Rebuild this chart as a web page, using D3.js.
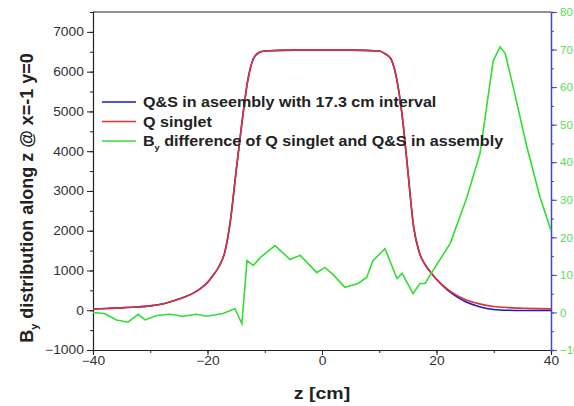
<!DOCTYPE html>
<meta charset="utf-8">
<script src="https://d3js.org/d3.v7.min.js"></script>
<style>
  body { margin: 0; background: #fff; }
  text { font-family: Arial, "Liberation Sans", sans-serif; }
</style>
<div id="my_dataviz"></div>
<script>

// z positions (cm) for the two field curves
var zField = [-40, -37.5, -35, -32.5, -30, -27.5, -25, -22.5, -21, -20, -19, -18, -17, -16, -15, -14, -13, -12, -11, -10,
              -5, 0, 5, 10, 11, 12, 13, 14, 15, 16, 17, 18, 19, 20, 21, 22.5, 25, 27.5, 30, 32.5, 35, 37.5, 40];
// Q singlet
var qSinglet = [30, 45, 60, 80, 110, 170, 280, 430, 570, 700, 880, 1100, 1450, 2250, 3500, 4700, 5750, 6320, 6480, 6520,
                6540, 6540, 6540, 6520, 6450, 6330, 5850, 4900, 3500, 2100, 1450, 1150, 950, 780, 640, 470, 270, 160, 95, 65, 50, 40, 35];
// Q&S in assembly
var qsAssembly = [30, 45, 60, 80, 110, 170, 280, 430, 570, 700, 880, 1100, 1450, 2250, 3500, 4700, 5750, 6320, 6480, 6520,
                  6540, 6540, 6540, 6520, 6450, 6330, 5850, 4900, 3500, 2100, 1450, 1150, 950, 780, 630, 440, 220, 90, 20, 0, -5, -5, -5];

// By difference curve (right axis)
var zDiff = [-40, -38, -35.9, -33.9, -32.1, -30.9, -28.9, -26.6, -24.3, -21.9, -20.1, -17.3, -15.2, -14, -13.1, -12, -10.8,
             -8.2, -5.6, -3.8, -0.9, 0.5, 2, 4, 6.3, 7.8, 8.9, 11, 13.1, 14, 15.9, 17.1, 18, 19.4, 22.4, 25.3, 27.6,
             29.9, 31.1, 32, 33.4, 35.8, 38.1, 40];
var byDiff = [0, -0.3, -2, -2.6, -0.5, -2, -0.8, -0.5, -1, -0.5, -1, -0.3, 1, -3, 13.8, 12.5, 14.6,
              17.8, 14.1, 15.2, 10.6, 12, 10, 6.7, 7.7, 9.3, 13.8, 17, 9, 10.4, 5, 7.7, 7.7, 11.2, 18.4, 30.6, 42.3,
              67, 70.7, 69, 60, 44, 30.6, 21.8];

var xTicks = [-40, -20, 0, 20, 40];
var yTicks = [-1000, 0, 1000, 2000, 3000, 4000, 5000, 6000, 7000];
var y2Ticks = [-10, 0, 10, 20, 30, 40, 50, 60, 70, 80];

var margin = {top: 12, right: 23, bottom: 56, left: 93},
    width = 574 - margin.left - margin.right,
    height = 406 - margin.top - margin.bottom;

// the original picture is a bit stretched sideways
var sx = 1.15;

var svg = d3.select("#my_dataviz")
  .append("svg")
    .attr("width", 574)
    .attr("height", 406)
  .append("g")
    .attr("transform", "translate(" + margin.left + "," + margin.top + ")");

var x = d3.scaleLinear().domain([-40, 40]).range([0, width]);
var y = d3.scaleLinear().domain([-1000, 7500]).range([height, 0]);
var y2 = d3.scaleLinear().domain([-10, 80]).range([height, 0]);

// top frame line
svg.append("line")
  .attr("x1", 0).attr("x2", width).attr("y1", 0).attr("y2", 0)
  .attr("stroke", "#222").attr("stroke-width", 1.2);

// X axis with minor ticks
svg.append("g")
  .attr("transform", "translate(0," + height + ")")
  .call(d3.axisBottom(x).tickValues(d3.range(-40, 41, 10)).tickSize(3).tickFormat(""))
  .call(function(g) { g.select(".domain").attr("stroke", "#222").attr("stroke-width", 1.2); g.selectAll("line").attr("stroke", "#222"); });
svg.append("g")
  .attr("transform", "translate(0," + height + ")")
  .call(d3.axisBottom(x).tickValues(xTicks).tickSize(5).tickPadding(1))
  .call(function(g) {
    g.select(".domain").remove();
    g.selectAll("line").attr("stroke", "#222");
    g.selectAll("text").attr("fill", "#333").style("font-size", "12px")
      .attr("transform", "scale(" + sx + ",1)");
  });

// left Y axis
svg.append("g")
  .call(d3.axisLeft(y).tickValues(d3.range(-1000, 7501, 500)).tickSize(3).tickFormat(""))
  .call(function(g) { g.select(".domain").attr("stroke", "#222").attr("stroke-width", 1.2); g.selectAll("line").attr("stroke", "#222"); });
svg.append("g")
  .call(d3.axisLeft(y).tickValues(yTicks).tickSize(6).tickPadding(2).tickFormat(d3.format("d")))
  .call(function(g) {
    g.select(".domain").remove();
    g.selectAll("line").attr("stroke", "#222");
    g.selectAll("text").attr("fill", "#333").style("font-size", "12px")
      .attr("transform", "scale(" + sx + ",1)");
  });

// right Y axis (blue line, green labels)
svg.append("g")
  .attr("transform", "translate(" + width + ",0)")
  .call(d3.axisRight(y2).tickValues(d3.range(-10, 81, 5)).tickSize(3).tickFormat(""))
  .call(function(g) { g.select(".domain").attr("stroke", "#4444cc").attr("stroke-width", 1.5); g.selectAll("line").attr("stroke", "#4444cc"); });
svg.append("g")
  .attr("transform", "translate(" + width + ",0)")
  .call(d3.axisRight(y2).tickValues(y2Ticks).tickSize(6).tickPadding(3))
  .call(function(g) {
    g.select(".domain").remove();
    g.selectAll("line").attr("stroke", "#4444cc");
    g.selectAll("text").attr("fill", "#55dd55").style("font-size", "11.5px");
  });

// lines
var line1 = d3.line().curve(d3.curveMonotoneX)
  .x(function(d, i) { return x(zField[i]); })
  .y(function(d) { return y(d); });
var line2 = d3.line().curve(d3.curveLinear)
  .x(function(d, i) { return x(zDiff[i]); })
  .y(function(d) { return y2(d); });

svg.append("path").datum(qsAssembly).attr("d", line1)
  .attr("fill", "none").attr("stroke", "#1a1acc").attr("stroke-width", 1.6);
svg.append("path").datum(qSinglet).attr("d", line1)
  .attr("fill", "none").attr("stroke", "#dd3333").attr("stroke-width", 1.6);
svg.append("path").datum(byDiff).attr("d", line2)
  .attr("fill", "none").attr("stroke", "#33dd33").attr("stroke-width", 1.6);

// legend
var legend = [
  {c: "#1a1acc", t: "Q&S in aseembly with 17.3 cm interval"},
  {c: "#dd3333", t: "Q singlet"},
  {c: "#33dd33", t: " difference of Q singlet and Q&S in assembly", sub: true}
];
legend.forEach(function(d, i) {
  var ly = 90 + i * 19.5;
  svg.append("line").attr("x1", 9).attr("x2", 43).attr("y1", ly).attr("y2", ly)
    .attr("stroke", d.c).attr("stroke-width", 1.6);
  var t = svg.append("text")
    .attr("transform", "translate(50," + (ly + 5) + ")scale(" + sx + ",1)")
    .style("font-size", "14px").style("font-weight", "bold").attr("fill", "#222");
  if (d.sub) {
    t.append("tspan").text("B");
    t.append("tspan").text("y").attr("dy", 4).style("font-size", "8px");
    t.append("tspan").text(d.t).attr("dy", -4);
  } else {
    t.text(d.t);
  }
});

// axis titles
svg.append("text")
  .attr("transform", "translate(" + (width / 2) + "," + (height + 49) + ")scale(" + sx + ",1)")
  .attr("text-anchor", "middle")
  .style("font-size", "17px").style("font-weight", "bold").attr("fill", "#222")
  .text("z [cm]");

var yl = svg.append("text")
  .attr("transform", "translate(-60,186)rotate(-90)")
  .attr("text-anchor", "middle")
  .style("font-size", "18px").style("font-weight", "bold").attr("fill", "#222");
yl.append("tspan").text("B");
yl.append("tspan").text("y").attr("dy", 5).style("font-size", "11px");
yl.append("tspan").text(" distribution along z @ x=-1 y=0").attr("dy", -5);

</script>
